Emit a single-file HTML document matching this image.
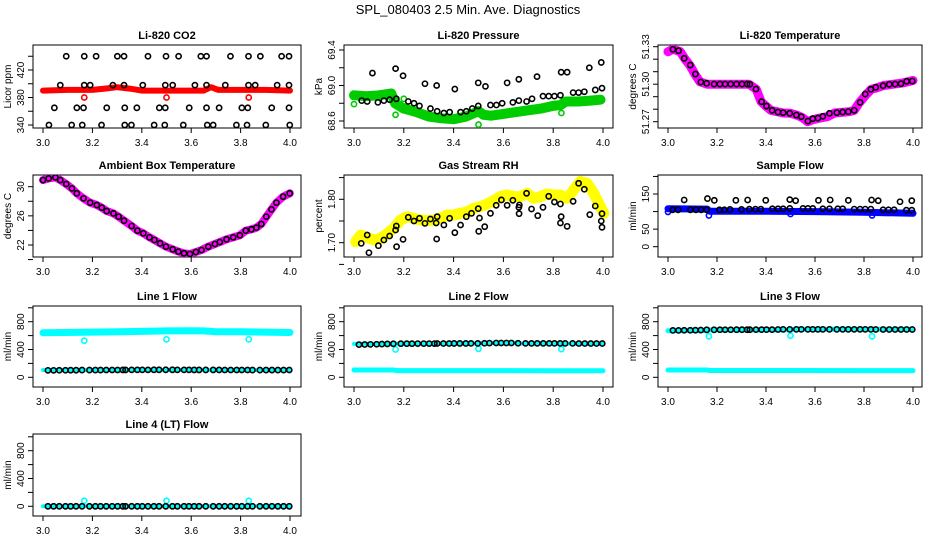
<!DOCTYPE html>
<html><head><meta charset="utf-8"><style>
html,body{margin:0;padding:0;background:#fff;}
svg{display:block;font-family:"Liberation Sans",sans-serif;}
</style></head><body>
<svg id="chart" width="936" height="540" viewBox="0 0 936 540" xmlns="http://www.w3.org/2000/svg">
<rect width="936" height="540" fill="#fff"/>
<text x="468" y="14" text-anchor="middle" font-size="13">SPL_080403  2.5 Min. Ave. Diagnostics</text>
</svg>
<script>
// ---- shared data ----
const xTicks = [3.0, 3.2, 3.4, 3.6, 3.8, 4.0];
const xTickLabels = ["3.0", "3.2", "3.4", "3.6", "3.8", "4.0"];
const outlierX = [3.167, 3.5, 3.833];
const sampleX = [3.020,3.043,3.066,3.091,3.112,3.134,3.158,3.188,3.212,3.233,3.256,3.280,3.302,3.323,3.334,3.359,3.382,3.402,3.425,3.449,3.470,3.497,3.524,3.544,3.571,3.591,3.612,3.632,3.659,3.689,3.713,3.736,3.760,3.784,3.805,3.828,3.848,3.878,3.903,3.927,3.951,3.974,3.997];

// CO2
const co2BandX = [3.0,3.1,3.2,3.25,3.3,3.35,3.4,3.5,3.6,3.65,3.68,3.71,3.8,3.9,4.0];
const co2BandY = [390,391,391,393,395,393,390,390,390,390,395,391,391,391,390];
const co2OutY = [380,380,380];
const co2BlackX = [3.094,3.167,3.215,3.301,3.328,3.425,3.498,3.549,3.639,3.662,3.759,3.832,3.880,3.966,3.996,
 3.070,3.167,3.191,3.283,3.328,3.404,3.495,3.525,3.615,3.662,3.738,3.832,3.859,3.948,3.996,
 3.046,3.137,3.164,3.258,3.331,3.380,3.471,3.495,3.592,3.662,3.713,3.805,3.829,3.926,3.996,
 3.024,3.116,3.159,3.237,3.331,3.358,3.450,3.493,3.568,3.665,3.689,3.783,3.826,3.902,3.999];
const co2BlackY = [440,440,440,440,440,440,440,440,440,440,440,440,440,440,440,
 398,398,398,398,398,398,398,398,398,398,398,398,398,398,398,
 365,365,365,365,365,365,365,365,365,365,365,365,365,365,365,
 340,340,340,340,340,340,340,340,340,340,340,340,340,340,340];

// Pressure
const presBandX = [3.0,3.05,3.1,3.15,3.165,3.2,3.25,3.3,3.35,3.4,3.45,3.5,3.52,3.55,3.6,3.65,3.7,3.75,3.8,3.83,3.85,3.9,3.95,3.99];
const presBandY = [68.89,68.88,68.89,68.91,68.80,68.74,68.70,68.65,68.63,68.62,68.65,68.71,68.67,68.66,68.68,68.70,68.72,68.74,68.77,68.78,68.82,68.82,68.83,68.84];
const presGreenX = [3.0,3.167,3.2,3.5,3.833];
const presGreenY = [68.79,68.67,68.85,68.56,68.69];
const presBlackX = [3.074,3.167,3.197,3.285,3.332,3.405,3.499,3.528,3.615,3.662,3.735,3.832,3.856,3.945,3.993,
 3.031,3.053,3.096,3.120,3.143,3.170,3.218,3.241,3.263,3.307,3.334,3.361,3.384,3.428,3.451,3.475,3.499,3.548,3.572,3.595,3.638,3.662,3.693,3.715,3.759,3.782,3.805,3.829,3.880,3.902,3.925,3.969,3.996];
const presBlackY = [69.14,69.19,69.11,69.02,69.00,68.96,69.03,68.99,69.03,69.07,69.10,69.15,69.15,69.20,69.26,
 68.83,68.82,68.81,68.83,68.84,68.85,68.82,68.80,68.77,68.74,68.71,68.69,68.70,68.70,68.71,68.74,68.77,68.78,68.78,68.80,68.81,68.83,68.82,68.85,68.88,68.88,68.88,68.89,68.92,68.92,68.93,68.95,68.97];

// Li-820 temperature
const tempBandX = [3.0,3.02,3.05,3.07,3.09,3.11,3.13,3.16,3.33,3.36,3.38,3.40,3.42,3.47,3.50,3.53,3.55,3.57,3.59,3.61,3.65,3.68,3.74,3.76,3.78,3.81,3.83,3.85,3.88,3.92,3.96,4.0];
const tempBandY = [51.326,51.328,51.326,51.320,51.315,51.308,51.302,51.300,51.300,51.296,51.286,51.2825,51.279,51.277,51.2767,51.275,51.273,51.270,51.2715,51.2725,51.274,51.277,51.278,51.279,51.285,51.292,51.296,51.297,51.299,51.300,51.301,51.303];
const tempCircY = [51.3279,51.3268,51.3207,51.3153,51.3081,51.3017,51.3007,51.3001,51.3001,51.3001,51.3001,51.3001,51.3001,51.3001,51.2999,51.2961,51.2860,51.2825,51.2791,51.2777,51.2772,51.2767,51.2753,51.2740,51.2705,51.2724,51.2729,51.2743,51.2767,51.2772,51.2777,51.2780,51.2791,51.2855,51.2921,51.2959,51.2975,51.2988,51.2999,51.3001,51.3004,51.3023,51.3025];

// Ambient box temperature
const ambX = [3.000,3.023,3.050,3.070,3.094,3.117,3.137,3.164,3.191,3.218,3.238,3.258,3.285,3.306,3.328,3.359,3.382,3.406,3.431,3.451,3.474,3.498,3.525,3.548,3.571,3.595,3.619,3.642,3.669,3.696,3.716,3.743,3.770,3.797,3.821,3.844,3.864,3.884,3.904,3.925,3.945,3.972,3.999];
const ambY = [30.91,31.14,31.28,30.91,30.37,29.77,29.09,28.40,27.81,27.49,27.12,26.66,26.34,25.89,25.34,24.61,23.97,23.60,23.05,22.69,22.23,21.77,21.41,21.09,20.86,20.77,21.04,21.31,21.77,22.14,22.41,22.78,23.05,23.33,23.97,24.15,24.38,24.88,25.89,26.89,27.81,28.63,29.09];

// Gas stream RH
const rhBandX = [3.007,3.027,3.053,3.080,3.107,3.134,3.160,3.187,3.214,3.241,3.267,3.294,3.321,3.348,3.374,3.401,3.428,3.455,3.481,3.508,3.535,3.561,3.588,3.615,3.642,3.668,3.695,3.722,3.749,3.775,3.802,3.829,3.856,3.882,3.909,3.936,3.963,3.989,4.003];
const rhBandY = [1.7023,1.7177,1.7123,1.7062,1.7100,1.7215,1.7331,1.7523,1.7600,1.7562,1.7523,1.7508,1.7523,1.7562,1.7638,1.7638,1.7677,1.7715,1.7792,1.7831,1.7892,1.7969,1.8062,1.8100,1.8062,1.8062,1.8138,1.8023,1.8062,1.8123,1.8100,1.8100,1.8023,1.8215,1.8408,1.8369,1.8138,1.7831,1.7677];
const rhBlackX = [3.029,3.053,3.060,3.098,3.120,3.143,3.167,3.170,3.171,3.197,3.218,3.241,3.263,3.285,3.307,3.330,3.334,3.332,3.361,3.384,3.405,3.428,3.451,3.472,3.499,3.501,3.504,3.525,3.548,3.571,3.592,3.615,3.638,3.662,3.664,3.663,3.693,3.713,3.738,3.759,3.782,3.805,3.829,3.832,3.829,3.856,3.880,3.902,3.925,3.947,3.969,3.996,3.993,3.996];
const rhBlackY = [1.6985,1.7177,1.6769,1.6931,1.7062,1.7154,1.7292,1.7385,1.6908,1.7077,1.7585,1.7500,1.7562,1.7446,1.7546,1.7454,1.7600,1.7085,1.7408,1.7562,1.7231,1.7408,1.7600,1.7677,1.7785,1.7262,1.7569,1.7369,1.7677,1.7862,1.7985,1.7862,1.7977,1.7815,1.7869,1.7669,1.8138,1.7777,1.7623,1.7815,1.8069,1.7938,1.7892,1.7600,1.7454,1.7377,1.7954,1.8369,1.8231,1.7646,1.7846,1.7669,1.7500,1.7354];

// Sample flow
const sfBandX = [3.0,3.16,3.17,3.4,3.6,3.8,4.0];
const sfBandY = [108,107,101,101,100,98,95];
const sfBlueX = [3.0,3.167,3.5,3.833];
const sfBlueY = [99,89,93,89];
const sfLowX = [3.019,3.041,3.091,3.114,3.135,3.158,3.210,3.230,3.253,3.300,3.332,3.357,3.379,3.426,3.449,3.470,3.497,3.551,3.571,3.591,3.632,3.659,3.693,3.713,3.760,3.784,3.805,3.828,3.878,3.900,3.923,3.973,3.995];
const sfLowY = [105,105,105,105,105,105,105,105,106,106,107,107,107,108,108,108,109,109,109,109,108,108,108,108,107,107,107,107,105,105,105,104,104];
const sfHighX = [3.066,3.161,3.189,3.277,3.325,3.399,3.497,3.521,3.614,3.662,3.736,3.831,3.858,3.947,3.995];
const sfHighY = [133,137,132,132,133,132,134,131,132,133,132,133,131,128,131];

// Line flows
const l1UpperX = [3.0,3.2,3.4,3.5,3.6,3.65,3.7,3.8,4.0];
const l1UpperY = [640,650,660,668,670,668,655,655,645];
const lowBandX = [3.0,3.16,3.17,3.5,3.8,4.0];
const l1LowY = [105,105,104,104,103,103];
const l1Out = [527,546,546];
const l1Black = [100,100,101,101,102,102,104,104,104,104,105,105,105,106,106,107,107,107,107,108,108,108,108,107,107,107,106,106,106,106,106,105,105,105,105,105,104,104,104,104,104,104,105];
const l2CyanX = [3.0,3.16,3.17,3.5,3.55,3.65,3.66,4.0];
const l2CyanY = [480,480,485,488,495,495,485,485];
const l2LowY = [105,105,96,96,95,95];
const l2Out = [400,410,405];
const l2Black = [470,472,474,476,478,480,482,484,484,484,485,485,485,485,486,486,486,487,487,487,488,488,490,492,494,494,494,494,490,488,488,488,488,488,488,488,488,488,486,486,486,486,486];
const l3CyanX = [3.0,3.16,3.17,3.5,3.52,4.0];
const l3CyanY = [670,672,682,682,690,690];
const l3LowY = [105,105,98,98,97,97];
const l3Out = [590,598,590];
const l3Black = [675,675,677,677,678,680,683,683,684,684,684,685,685,685,685,686,686,686,686,688,690,690,690,690,690,690,690,690,690,690,690,690,690,690,690,690,688,688,688,688,688,688,688];
const l4CyanX = [3.0,4.0];
const l4CyanY = [0,0];
const l4Out = [80,80,80];
const l4Black = [0,0,0,0,0,0,0,0,0,0,0,0,0,0,0,0,0,0,0,0,0,0,0,0,0,0,0,0,0,0,0,0,0,0,0,0,0,0,0,0,0,0,0];

// ---- rendering ----
const NS = "http://www.w3.org/2000/svg";
const svg = document.getElementById("chart");
function mk(tag, attrs, parent) {
  const e = document.createElementNS(NS, tag);
  for (const k in attrs) e.setAttribute(k, attrs[k]);
  (parent || svg).appendChild(e);
  return e;
}
const COLS = [{l:33,r:301,x0:43,x1:290},{l:344,r:613,x0:354,x1:603},{l:658,r:922,x0:668,x1:913}];
const ROWS = [{t:45,b:128},{t:175,b:257},{t:306,b:387},{t:434,b:516}];

function panel(name, title, ylab, col, row, yMap, yTicks, yLabels) {
  const c = COLS[col], r = ROWS[row];
  const g = mk("g", {});
  
  
  const xs = v => c.x0 + (v - 3) * (c.x1 - c.x0);
  const ys = v => yMap[1] + (v - yMap[0]) * (yMap[3] - yMap[1]) / (yMap[2] - yMap[0]);
  const t = mk("text", {x:(c.l+c.r)/2, y:r.t-6, "text-anchor":"middle", "font-size":"11", "font-weight":"bold"}, g);
  t.textContent = title;
  
  
  const box = mk("rect", {x:c.l, y:r.t, width:c.r-c.l, height:r.b-r.t, fill:"none", stroke:"#000", "stroke-width":"1"}, g);
  
  
  const xa = mk("g", {}, g);
  
  
  xTicks.forEach((v, i) => {
    const x = xs(v);
    mk("line", {x1:x, x2:x, y1:r.b, y2:r.b+5, stroke:"#000"}, xa);
    const tl = mk("text", {x:x, y:r.b+18, "text-anchor":"middle", "font-size":"10"}, xa);
    tl.textContent = xTickLabels[i];
    
    
  });
  const ya = mk("g", {}, g);
  
  
  yTicks.forEach(v => {
    const y = ys(v);
    mk("line", {x1:c.l-5, x2:c.l, y1:y, y2:y, stroke:"#000"}, ya);
  });
  yLabels.forEach(([v, s]) => {
    const y = ys(v);
    const tl = mk("text", {x:0, y:0, "text-anchor":"middle", "font-size":"10", transform:`translate(${c.l-9},${y}) rotate(-90)`}, ya);
    tl.textContent = s;
    
    
  });
  const yt = mk("text", {x:0, y:0, "text-anchor":"middle", "font-size":"10", transform:`translate(${c.l-22},${(r.t+r.b)/2}) rotate(-90)`}, g);
  yt.textContent = ylab;
  
  
  const clip = "clip-" + name;
  const cp = mk("clipPath", {id:clip}, g);
  mk("rect", {x:c.l, y:r.t, width:c.r-c.l, height:r.b-r.t}, cp);
  const plot = mk("g", {"clip-path":`url(#${clip})`}, g);
  return {
    band(X, Y, color, w, nm) {
      const pts = X.map((x, i) => xs(x).toFixed(1) + "," + ys(Y[i]).toFixed(1)).join(" ");
      const pl = mk("polyline", {points:pts, fill:"none", stroke:color, "stroke-width":w, "stroke-linejoin":"round", "stroke-linecap":"round"}, plot);
      
      
    },
    pts(X, Y, color, nm) {
      const pg = mk("g", {}, plot);
      
      
      X.forEach((x, i) => {
        mk("circle", {cx:xs(x), cy:ys(Y[i]), r:2.6, fill:"none", stroke:color, "stroke-width":"1.6"}, pg);
      });
    }
  };
}
const BLK = "#000", RED = "#ff0000", GRN = "#00cc00", MAG = "#ff00ff", YEL = "#ffff00", BLU = "#0000ff", CYN = "#00ffff";

let p = panel("co2-panel", "Li-820 CO2", "Licor ppm", 0, 0, [340,125,420,70], [340,360,380,400,420,440], [[340,"340"],[380,"380"],[420,"420"]]);
p.band(co2BandX, co2BandY, RED, 6, "co2-band");
p.pts(outlierX, co2OutY, RED, "co2-outliers");
p.pts(co2BlackX, co2BlackY, BLK, "co2-avg-points");

p = panel("pressure-panel", "Li-820 Pressure", "kPa", 1, 0, [68.6,121,69.4,50], [68.6,68.8,69.0,69.2,69.4], [[68.6,"68.6"],[69.0,"69.0"],[69.4,"69.4"]]);
p.band(presBandX, presBandY, GRN, 10, "pressure-band");
p.pts(presGreenX, presGreenY, GRN, "pressure-outliers");
p.pts(presBlackX, presBlackY, BLK, "pressure-avg-points");

p = panel("li820-temp-panel", "Li-820 Temperature", "degrees C", 2, 0, [51.27,121.7,51.33,46.7], [51.27,51.28,51.29,51.30,51.31,51.32,51.33], [[51.27,"51.27"],[51.30,"51.30"],[51.33,"51.33"]]);
p.band(tempBandX, tempBandY, MAG, 9, "li820-temp-band");
p.pts(sampleX, tempCircY, BLK, "li820-temp-points");

p = panel("ambient-temp-panel", "Ambient Box Temperature", "degrees C", 0, 1, [22,245,30,186.7], [20,22,24,26,28,30], [[22,"22"],[26,"26"],[30,"30"]]);
p.band(ambX, ambY, MAG, 8, "ambient-temp-band");
p.pts(ambX, ambY, BLK, "ambient-temp-points");

p = panel("rh-panel", "Gas Stream RH", "percent", 1, 1, [1.70,242.7,1.80,199.3], [1.65,1.70,1.75,1.80,1.85], [[1.70,"1.70"],[1.80,"1.80"]]);
p.band(rhBandX, rhBandY, YEL, 11, "rh-band");
p.pts(rhBlackX, rhBlackY, BLK, "rh-points");

p = panel("sample-flow-panel", "Sample Flow", "ml/min", 2, 1, [0,246.7,150,194], [0,50,100,150,200], [[0,"0"],[50,"50"],[150,"150"]]);
p.band(sfBandX, sfBandY, BLU, 7, "sample-flow-band");
p.pts(sfBlueX, sfBlueY, BLU, "sample-flow-outliers");
p.pts(sfLowX, sfLowY, BLK, "sample-flow-points");
p.pts(sfHighX, sfHighY, BLK, "sample-flow-high-points");

const flowTicks = [0,200,400,600,800,1000];
const flowLabels = [[0,"0"],[400,"400"],[800,"800"]];
p = panel("line1-panel", "Line 1 Flow", "ml/min", 0, 2, [0,377.3,800,321.7], flowTicks, flowLabels);
p.band(l1UpperX, l1UpperY, CYN, 7, "line1-upper-band");
p.band(lowBandX, l1LowY, CYN, 4, "line1-lower-band");
p.pts(outlierX, l1Out, CYN, "line1-outliers");
p.pts(sampleX, l1Black, BLK, "line1-points");

p = panel("line2-panel", "Line 2 Flow", "ml/min", 1, 2, [0,377.3,800,321.7], flowTicks, flowLabels);
p.band(lowBandX, l2LowY, CYN, 5, "line2-lower-band");
p.band(l2CyanX, l2CyanY, CYN, 4, "line2-upper-band");
p.pts(outlierX, l2Out, CYN, "line2-outliers");
p.pts(sampleX, l2Black, BLK, "line2-points");

p = panel("line3-panel", "Line 3 Flow", "ml/min", 2, 2, [0,377.3,800,321.7], flowTicks, flowLabels);
p.band(lowBandX, l3LowY, CYN, 5, "line3-lower-band");
p.band(l3CyanX, l3CyanY, CYN, 5, "line3-upper-band");
p.pts(outlierX, l3Out, CYN, "line3-outliers");
p.pts(sampleX, l3Black, BLK, "line3-points");

p = panel("line4-panel", "Line 4 (LT) Flow", "ml/min", 0, 3, [0,506.3,800,450.7], flowTicks, flowLabels);
p.band(l4CyanX, l4CyanY, CYN, 4, "line4-band");
p.pts(outlierX, l4Out, CYN, "line4-outliers");
p.pts(sampleX, l4Black, BLK, "line4-points");
</script>
</body></html>
